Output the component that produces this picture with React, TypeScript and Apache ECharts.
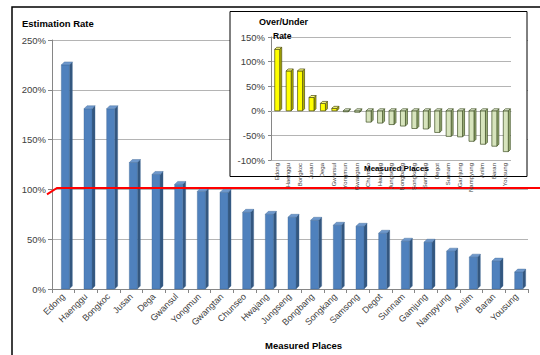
import React, { useEffect, useRef } from "react";
import * as echarts from "echarts";

const places = [
  "Edong", "Haenggu", "Bongkoc", "Jusan", "Dega", "Gwansul", "Yongmun",
  "Gwangtan", "Chunseo", "Hwajang", "Jungseng", "Bongbang", "Songkang",
  "Samsong", "Degot", "Sunnam", "Gamjung", "Nampyung", "Anlim", "Baran", "Yousung",
];
const estimationRate = [225, 181, 181, 127, 115, 105, 98, 97, 77, 75, 72, 69, 64, 63, 56, 48, 47, 38, 32, 28, 17];
const overUnderRate = [125, 81, 81, 27, 15, 5, -2, -3, -23, -25, -28, -31, -36, -37, -44, -52, -53, -62, -68, -72, -83];
const mainAxis = { min: 0, max: 250, interval: 50 };
const insetAxis = { min: -100, max: 150, interval: 50 };
const referenceRate = 100;

const FONT = '"Liberation Sans", Arial, sans-serif';

type Colors = { front: string; side: string; top: string; edge: string; lw: number };

function bar3d(w: number, d: number, shift: number, colorsFn: (v: number) => Colors) {
  return (_params: any, api: any) => {
    const idx = api.value(0);
    const v = api.value(1);
    const p = api.coord([idx, v]);
    const b = api.coord([idx, 0]);
    const x0 = p[0] - w / 2 + shift;
    const yHi = Math.min(p[1], b[1]);
    const yLo = Math.max(p[1], b[1]);
    const c = colorsFn(v);
    const st = (fill: string) => ({ fill, stroke: c.edge, lineWidth: c.lw });
    return {
      type: "group",
      children: [
        {
          type: "polygon",
          shape: { points: [[x0 + w, yHi], [x0 + w + d, yHi - d], [x0 + w + d, yLo - d], [x0 + w, yLo]] },
          style: st(c.side),
        },
        { type: "rect", shape: { x: x0, y: yHi, width: w, height: yLo - yHi }, style: st(c.front) },
        {
          type: "polygon",
          shape: { points: [[x0, yHi], [x0 + d, yHi - d], [x0 + w + d, yHi - d], [x0 + w, yHi]] },
          style: st(c.top),
        },
      ],
    };
  };
}

const mainColors = (): Colors => ({ front: "#4F81BD", side: "#34577F", top: "#6E98CC", edge: "#3F6896", lw: 0.4 });
const insetColors = (v: number): Colors =>
  v >= 0
    ? { front: "#FFFF00", side: "#B8B800", top: "#FFFF80", edge: "#4A4A10", lw: 0.7 }
    : { front: "#D7E4BD", side: "#9FB37C", top: "#E8F0D8", edge: "#3E4F22", lw: 0.7 };

export default function App() {
  const ref = useRef<HTMLDivElement>(null);
  useEffect(() => {
    if (!ref.current) return;
    const chart = echarts.init(ref.current, undefined, { renderer: "svg" });
    const baseGraphic: any[] = [
      {
        id: "frame",
        type: "rect",
        z: 1,
        shape: { x: 12, y: 7, width: 600, height: 400 },
        style: { fill: "none", stroke: "#000", lineWidth: 1.5 },
      },
      {
        id: "insetBox",
        type: "rect",
        z: 5,
        shape: { x: 230, y: 11.5, width: 297, height: 165 },
        style: { fill: "#fff", stroke: "#000", lineWidth: 1 },
      },
    ];
    const axisGray = "#868686";
    const gridGray = "#b4b4b4";
    const labelColor = "#404040";
    chart.setOption({
      animation: false,
      backgroundColor: "#fff",
      textStyle: { fontFamily: FONT },
      title: [
        { text: "Estimation Rate", left: 22, top: 18, padding: 0, z: 20, textStyle: { fontFamily: FONT, fontSize: 9.5, fontWeight: "bold", color: "#000" } },
        { text: "Measured Places", left: 265, top: 340, padding: 0, z: 20, textStyle: { fontFamily: FONT, fontSize: 9.5, fontWeight: "bold", color: "#000" } },
        { text: "Over/Under", left: 259, top: 17.5, padding: 0, z: 20, textStyle: { fontFamily: FONT, fontSize: 9, fontWeight: "bold", color: "#000" } },
        { text: "Rate", left: 273, top: 31.5, padding: 0, z: 20, textStyle: { fontFamily: FONT, fontSize: 8.5, fontWeight: "bold", color: "#000" } },
        { text: "Measured Places", left: 364, top: 164.5, padding: 0, z: 20, textStyle: { fontFamily: FONT, fontSize: 8, fontWeight: "bold", color: "#000" } },
      ],
      grid: [
        { left: 52, right: 12, top: 40, bottom: 66 },
        { left: 271, right: 29, top: 37, bottom: 195 },
      ],
      xAxis: [
        {
          type: "category",
          gridIndex: 0,
          data: places,
          axisLine: { lineStyle: { color: axisGray } },
          axisTick: { show: true, alignWithLabel: false, interval: 0, length: 4, lineStyle: { color: axisGray } },
          axisLabel: { rotate: 45, interval: 0, fontSize: 9, color: labelColor, margin: 6, fontFamily: FONT },
        },
        {
          type: "category",
          gridIndex: 1,
          data: places,
          z: 10,
          axisLine: { show: true, onZero: true, lineStyle: { color: gridGray } },
          axisTick: { show: false },
          axisLabel: { rotate: 90, interval: 0, fontSize: 6, color: labelColor, margin: 3, fontFamily: FONT },
        },
      ],
      yAxis: [
        {
          type: "value",
          gridIndex: 0,
          ...mainAxis,
          axisLine: { show: true, lineStyle: { color: axisGray } },
          axisTick: { show: true, length: 4, lineStyle: { color: axisGray } },
          axisLabel: { formatter: "{value}%", fontSize: 9.5, color: labelColor, margin: 6, fontFamily: FONT },
          splitLine: { lineStyle: { color: gridGray } },
        },
        {
          type: "value",
          gridIndex: 1,
          ...insetAxis,
          z: 10,
          axisLine: { show: true, lineStyle: { color: axisGray } },
          axisTick: { show: true, length: 3, lineStyle: { color: axisGray } },
          axisLabel: { formatter: "{value}%", fontSize: 9.5, color: labelColor, margin: 6, fontFamily: FONT },
          splitLine: { lineStyle: { color: gridGray } },
        },
      ],
      series: [
        {
          type: "custom",
          xAxisIndex: 0,
          yAxisIndex: 0,
          z: 2,
          encode: { x: 0, y: 1 },
          data: estimationRate.map((v, i) => [i, v]),
          renderItem: bar3d(8, 3, 2, mainColors),
        },
        {
          type: "custom",
          xAxisIndex: 1,
          yAxisIndex: 1,
          z: 12,
          encode: { x: 0, y: 1 },
          data: overUnderRate.map((v, i) => [i, v]),
          renderItem: bar3d(5, 2, 0.5, insetColors),
        },
      ],
      graphic: baseGraphic,
    });
    const y = (chart.convertToPixel({ xAxisIndex: 0, yAxisIndex: 0 } as any, [0, referenceRate]) as number[])[1] - 1.5;
    chart.setOption({
      graphic: [
        ...baseGraphic,
        {
          id: "refLine",
          type: "polyline",
          z: 4,
          shape: { points: [[47, y + 6.5], [57, y], [540, y]] },
          style: { stroke: "#FF0000", lineWidth: 2, fill: "none" },
        },
      ],
    });
    return () => chart.dispose();
  }, []);
  return <div ref={ref} style={{ position: "fixed", left: 0, top: 0, width: 540, height: 355 }} />;
}
